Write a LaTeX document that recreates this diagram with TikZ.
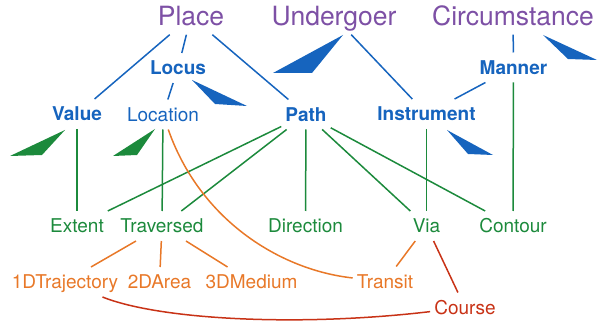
\documentclass[tikz,border=0pt]{standalone}
\usepackage{fontspec}
\setmainfont{TeX Gyre Heros}
\definecolor{cpurple}{RGB}{125,80,165}
\definecolor{cblue}{RGB}{22,100,190}
\definecolor{cgreen}{RGB}{28,138,60}
\definecolor{corange}{RGB}{232,120,40}
\definecolor{cred}{RGB}{200,50,22}
\tikzset{
  top/.style={font=\fontsize{26.5}{26.5}\selectfont, text=cpurple, text height=19pt, text depth=0pt, inner ysep=8.5pt, inner xsep=4pt},
  mid/.style={font=\fontsize{19}{19}\selectfont, text height=13.6pt, text depth=0pt, inner ysep=8pt, inner xsep=4pt},
  bmid/.style={mid, font=\fontsize{19}{19}\selectfont\bfseries, text=cblue},
  bl/.style={mid, text=cblue},
  gr/.style={mid, text=cgreen},
  ora/.style={mid, text=corange},
  rd/.style={mid, text=cred},
  ln/.style={line width=1.5pt},
}
\begin{document}
\begin{tikzpicture}[x=1pt,y=-1pt]
\useasboundingbox (0,0) rectangle (600,323);
% nodes
\node[top] (place) at (191,16.5) {Place};
\node[top] (under) at (334,16.5) {Undergoer};
\node[top] (circ) at (513,16.5) {Circumstance};
\node[bmid] (locus) at (178,68) {Locus};
\node[bmid] (manner) at (513.5,67.5) {Manner};
\node[bmid] (value) at (77,114) {Value};
\node[bl] (location) at (163,114.5) {Location};
\node[bmid] (path) at (306,114.5) {Path};
\node[bmid] (instr) at (426.5,114) {Instrument};
\node[gr] (extent) at (77,226) {Extent};
\node[gr] (trav) at (162,226) {Traversed};
\node[gr] (dir) at (305.5,226) {Direction};
\node[gr] (via) at (426.5,226) {Via};
\node[gr] (contour) at (513,226) {Contour};
\node[ora] (traj) at (65,282) {1DTrajectory};
\node[ora] (area) at (159.5,282) {2DArea};
\node[ora] (medium) at (251.5,282) {3DMedium};
\node[ora] (transit) at (385,281.5) {Transit};
\node[rd] (course) at (465,307.5) {Course};
% blue connectors
\begin{scope}[ln, draw=cblue]
\draw (place) -- (value);
\draw (place) -- (locus);
\draw (place) -- (path);
\draw (locus) -- (location);
\draw (under) -- (instr);
\draw (circ) -- (manner);
\draw (manner) -- (instr);
\end{scope}
% green connectors
\begin{scope}[ln, draw=cgreen]
\draw (value) -- (extent);
\draw (location) -- (trav);
\draw (path) -- (extent);
\draw (path) -- (trav);
\draw (path) -- (dir);
\draw (path) -- (via);
\draw (path) -- (contour);
\draw (instr) -- (via);
\draw (manner) -- (contour);
\end{scope}
% orange connectors
\begin{scope}[ln, draw=corange]
\draw (trav) -- (traj);
\draw (trav) -- (area);
\draw (trav) -- (medium);
\draw (via) -- (transit);
\draw (location) .. controls (200,220) and (280,270) .. (transit);
\end{scope}
% red connectors
\begin{scope}[ln, draw=cred]
\draw (via) -- (course);
\draw (traj) .. controls (160,320) and (300,327) .. (course);
\end{scope}
% wedges
\fill[cblue] (192,80) -- (247,106) -- (215,104) -- cycle;
\fill[cblue] (343,35) -- (273,73) -- (312,73) -- cycle;
\fill[cblue] (543,35) -- (597,60) -- (568,59) -- cycle;
\fill[cblue] (447,130) -- (493,155) -- (468,154) -- cycle;
\fill[cgreen] (65,130) -- (10,156) -- (42,155) -- cycle;
\fill[cgreen] (155,129) -- (113,156) -- (137,155) -- cycle;
\end{tikzpicture}
\end{document}
